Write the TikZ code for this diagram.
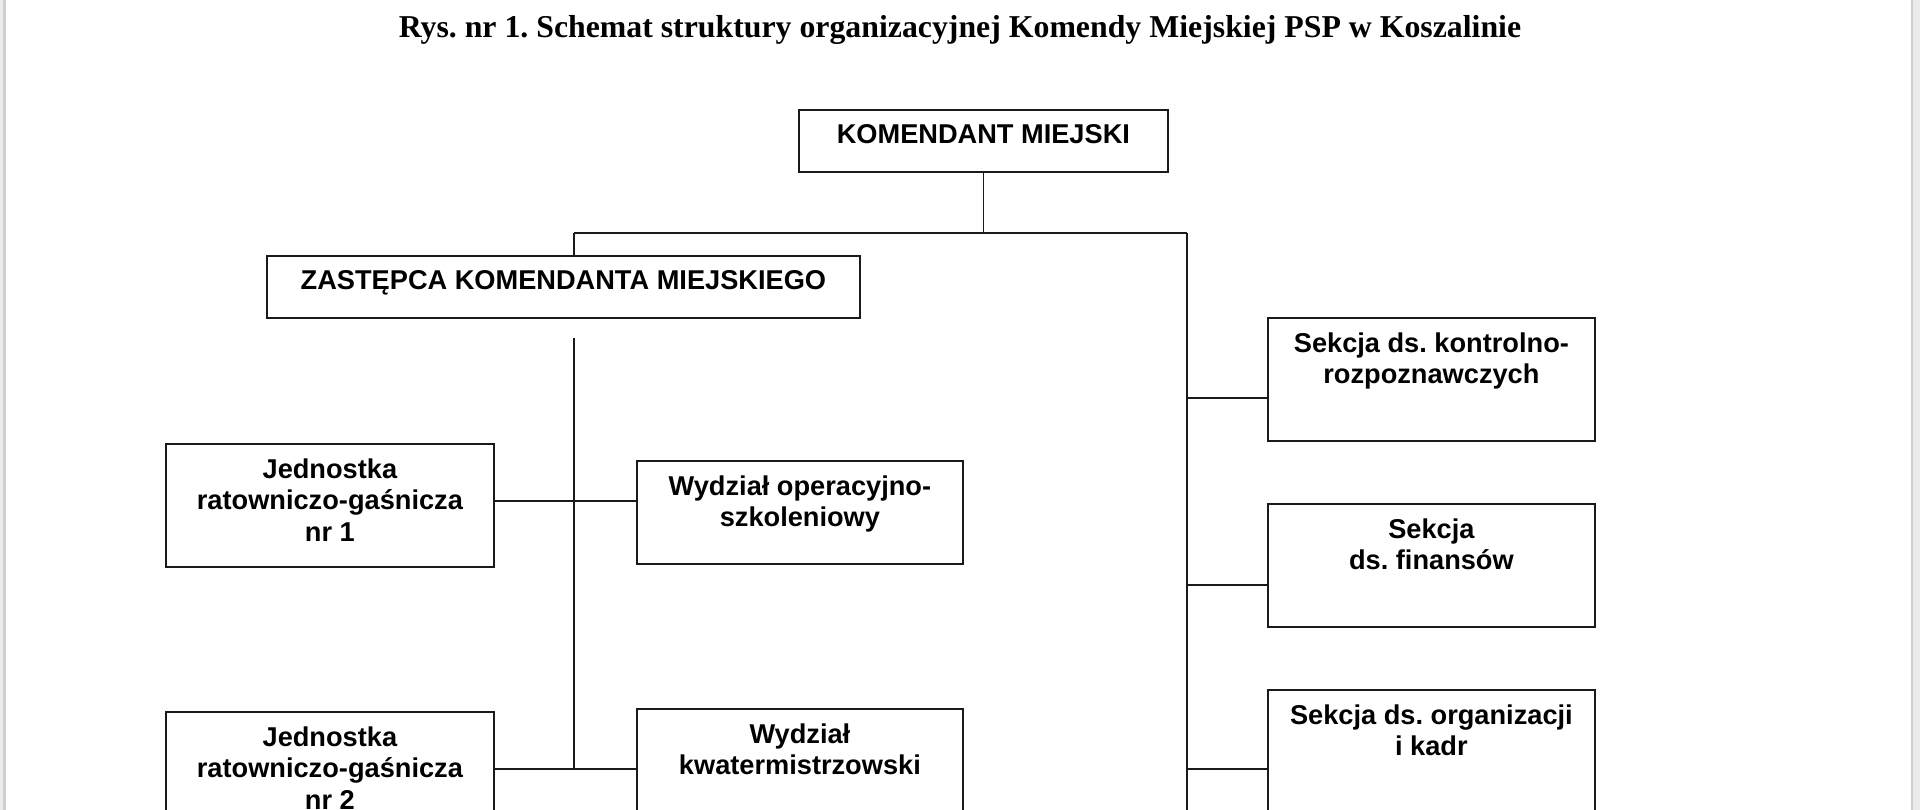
\documentclass[tikz,border=0pt]{standalone}
\usepackage{fontspec}
\setmainfont{Liberation Serif}
\newfontfamily\arialfont{Liberation Sans}
\frenchspacing
\definecolor{pagegrey}{HTML}{EBEBEB}
\definecolor{edgegrey}{HTML}{CFCFCF}
\definecolor{linecol}{HTML}{1A1A1A}
\tikzset{
  box/.style={draw=linecol, line width=1.8pt, rectangle, inner sep=0pt, anchor=north west},
  boxtext/.style={anchor=north, inner sep=0pt, align=center, text=black,
    font=\arialfont\bfseries\fontsize{27.2}{31.5}\selectfont},
  conn/.style={draw=linecol, line width=1.6pt},
}
\begin{document}
\begin{tikzpicture}[x=1pt,y=-1pt]
\useasboundingbox (0,0) rectangle (1920,810);
\clip (0,0) rectangle (1920,810);
\fill[white] (0,0) rectangle (1920,810);
% page edges
\fill[pagegrey] (0,0) rectangle (3,810);
\fill[edgegrey] (3,0) rectangle (5.5,810);
\fill[edgegrey] (1910.5,0) rectangle (1913,810);
\fill[pagegrey] (1913,0) rectangle (1920,810);

% title
\node[anchor=base, inner sep=0pt, font=\bfseries\fontsize{31.8}{36}\selectfont] (title) at (960,38) {Rys. nr 1. Schemat struktury organizacyjnej Komendy Miejskiej PSP w Koszalinie};

% boxes
\node[box, minimum width=369pt, minimum height=62pt] (kom) at (798,109) {};
\node[box, minimum width=593pt, minimum height=62pt] (zas) at (266,255) {};
\node[box, minimum width=328pt, minimum height=123pt] (jrg1) at (165,443) {};
\node[box, minimum width=328pt, minimum height=123pt] (jrg2) at (165,711) {};
\node[box, minimum width=326pt, minimum height=103pt] (wos) at (636,460) {};
\node[box, minimum width=326pt, minimum height=103pt] (wk) at (636,708) {};
\node[box, minimum width=327pt, minimum height=123pt] (sk1) at (1267,317) {};
\node[box, minimum width=327pt, minimum height=123pt] (sk2) at (1267,503) {};
\node[box, minimum width=327pt, minimum height=123pt] (sk3) at (1267,689) {};

% texts
\node[boxtext] (komt) at ([yshift=-15.5pt]kom.north) {KOMENDANT MIEJSKI};
\node[boxtext] (zast) at ([yshift=-15.5pt]zas.north) {ZASTĘPCA KOMENDANTA MIEJSKIEGO};
\node[boxtext] (jrg1t) at ([yshift=-15.5pt]jrg1.north) {Jednostka\\ratowniczo-gaśnicza\\nr 1};
\node[boxtext] (jrg2t) at ([yshift=-15.5pt]jrg2.north) {Jednostka\\ratowniczo-gaśnicza\\nr 2};
\node[boxtext] (wost) at ([yshift=-15.5pt]wos.north) {Wydział operacyjno-\\szkoleniowy};
\node[boxtext] (wkt) at ([yshift=-15.5pt]wk.north) {Wydział\\kwatermistrzowski};
\node[boxtext] (sk1t) at ([yshift=-15.5pt]sk1.north) {Sekcja ds. kontrolno-\\rozpoznawczych};
\node[boxtext] (sk2t) at ([yshift=-15.5pt]sk2.north) {Sekcja\\ds. finansów};
\node[boxtext] (sk3t) at ([yshift=-15.5pt]sk3.north) {Sekcja ds. organizacji\\i kadr};

% connector coordinates
\coordinate (busL) at (574,233);
\coordinate (busR) at (1187,233);
\coordinate (busBot) at (1187,812);
\coordinate (spineTop) at (574,338);
\coordinate (spineA) at (574,501);
\coordinate (spineB) at (574,769);
\coordinate (r1) at (1187,398);
\coordinate (r2) at (1187,585);
\coordinate (r3) at (1187,769);

% connectors
\draw[conn] (kom.south) -- (kom.south |- busL);
\draw[conn] (busL) -- (busR);
\draw[conn] (busL) -- (busL |- zas.north);
\draw[conn] (spineTop) -- (spineB);
\draw[conn] (jrg1.east |- spineA) -- (wos.west |- spineA);
\draw[conn] (jrg2.east |- spineB) -- (wk.west |- spineB);
\draw[conn] (busR) -- (busBot);
\draw[conn] (r1) -- (sk1.west |- r1);
\draw[conn] (r2) -- (sk2.west |- r2);
\draw[conn] (r3) -- (sk3.west |- r3);
\end{tikzpicture}
\end{document}
